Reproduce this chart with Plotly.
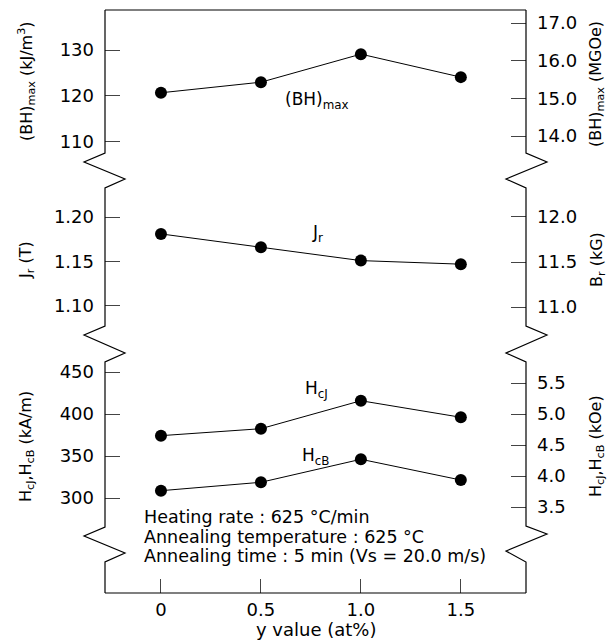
import plotly.graph_objects as go

# ---- data ----
y_value = [0, 0.5, 1.0, 1.5]
bh_max = [120.7, 123.0, 129.1, 124.1]      # kJ/m3
jr = [1.181, 1.166, 1.151, 1.147]           # T
hcj = [374.2, 382.5, 415.8, 396.1]          # kA/m
hcb = [308.7, 318.7, 346.1, 321.4]          # kA/m

x_ticks = [0, 0.5, 1.0, 1.5]
x_ticktext = ["0", "0.5", "1.0", "1.5"]
bh_ticks = [110, 120, 130]
bh_r_ticks = [14.0, 15.0, 16.0, 17.0]
jr_ticks = [1.10, 1.15, 1.20]
br_ticks = [11.0, 11.5, 12.0]
hc_ticks = [300, 350, 400, 450]
hc_r_ticks = [3.5, 4.0, 4.5, 5.0, 5.5]

W, H = 611, 640
L, R, T, B = 105, 526, 10, 593
FONT = "DejaVu Sans"


def px(x):
    return (x - L) / (R - L)


def py(y):
    return (B - y) / (B - T)


fig = go.Figure()
mk = dict(color="black", size=12)
ln = dict(color="black", width=1)
fig.add_trace(go.Scatter(x=y_value, y=bh_max, mode="lines+markers", marker=mk, line=ln, yaxis="y3"))
fig.add_trace(go.Scatter(x=y_value, y=jr, mode="lines+markers", marker=mk, line=ln, yaxis="y2"))
fig.add_trace(go.Scatter(x=y_value, y=hcj, mode="lines+markers", marker=mk, line=ln, yaxis="y"))
fig.add_trace(go.Scatter(x=y_value, y=hcb, mode="lines+markers", marker=mk, line=ln, yaxis="y"))
# empty traces so the right-hand (converted unit) axes are drawn
for ax in ["y4", "y5", "y6"]:
    fig.add_trace(go.Scatter(x=[None], y=[None], mode="markers", yaxis=ax, hoverinfo="skip"))

tickfont = dict(family=FONT, size=18, color="black")
common = dict(showgrid=False, zeroline=False, showline=False, ticks="inside",
              ticklen=15, tickcolor="#444", tickwidth=1, tickfont=tickfont)

d3 = [py(153), 1.0]
d2 = [py(326), py(188)]
d1 = [0.0, py(362)]

fig.update_layout(
    width=W, height=H,
    margin=dict(l=L, r=W - R, t=T, b=H - B, pad=0),
    paper_bgcolor="white", plot_bgcolor="white",
    showlegend=False,
    xaxis=dict(range=[-0.280, 1.826], tickvals=x_ticks, ticktext=x_ticktext,
               showgrid=False, zeroline=False, showline=False, ticks="inside",
               ticklen=14, tickcolor="#444", tickwidth=1, tickfont=tickfont,
               ticklabelstandoff=4),
    yaxis=dict(domain=d1, range=[186.9, 461.9], tickvals=hc_ticks, side="left", ticklabelstandoff=10, **common),
    yaxis2=dict(domain=d2, range=[1.0775, 1.2326], tickvals=jr_ticks, tickformat=".2f", side="left", ticklabelstandoff=10, **common),
    yaxis3=dict(domain=d3, range=[107.6, 138.7], tickvals=bh_ticks, side="left", ticklabelstandoff=10, **common),
    yaxis4=dict(overlaying="y", anchor="x", side="right", range=[2.113, 5.839], tickvals=hc_r_ticks, tickformat=".1f", ticklabelstandoff=10, **common),
    yaxis5=dict(overlaying="y2", anchor="x", side="right", range=[10.789, 12.322], tickvals=br_ticks, tickformat=".1f", ticklabelstandoff=10, **common),
    yaxis6=dict(overlaying="y3", anchor="x", side="right", range=[13.549, 17.345], tickvals=bh_r_ticks, tickformat=".1f", ticklabelstandoff=10, **common),
)

# frame with break marks
def zig_left(y0, y1, y2, y3):
    return f" L 0,{py(y0)} L {px(84)},{py(y1)} L {px(125)},{py(y2)} L 0,{py(y3)}"


def zig_right(y0, y1, y2, y3):
    return f" L 1,{py(y0)} L {px(547)},{py(y1)} L {px(506)},{py(y2)} L 1,{py(y3)}"


left_path = "M 0,1" + zig_left(153, 162, 179, 188) + zig_left(326, 335, 353, 362) + zig_left(527, 536, 553, 562) + " L 0,0"
right_path = "M 1,1" + zig_right(153, 162, 179, 188) + zig_right(326, 335, 353, 362) + zig_right(526, 534, 551, 562) + " L 1,0"
frame = dict(color="black", width=1.2)
fig.add_shape(type="path", path=left_path, xref="paper", yref="paper", line=frame)
fig.add_shape(type="path", path=right_path, xref="paper", yref="paper", line=frame)
fig.add_shape(type="line", x0=0, x1=1, y0=1, y1=1, xref="paper", yref="paper", line=frame)
fig.add_shape(type="line", x0=0, x1=1, y0=0, y1=0, xref="paper", yref="paper", line=frame)

def ann(text, x, y, size=16, angle=0, xanchor="center"):
    fig.add_annotation(text=text, x=px(x), y=py(y), xref="paper", yref="paper",
                       showarrow=False, textangle=angle, xanchor=xanchor, yanchor="middle",
                       borderpad=0,
                       font=dict(family=FONT, size=size, color="black"))

# axis titles
ann("(BH)<sub>max</sub> (kJ/m<sup>3</sup>)", 26, 81, 16, -90)
ann("J<sub>r</sub> (T)", 26, 260, 16, -90)
ann("H<sub>cJ</sub>,H<sub>cB</sub> (kA/m)", 26, 447, 16, -90)
ann("(BH)<sub>max</sub> (MGOe)", 596, 84, 16, -90)
ann("B<sub>r</sub> (kG)", 597, 260, 16, -90)
ann("H<sub>cJ</sub>,H<sub>cB</sub> (kOe)", 597, 446, 16, -90)
ann("y value (at%)", 316, 630, 18)

# series labels
ann("(BH)<sub>max</sub>", 317, 100, 17)
ann("J<sub>r</sub>", 317, 233, 17)
ann("H<sub>cJ</sub>", 316, 389, 17)
ann("H<sub>cB</sub>", 316, 457, 17)

# conditions
ann("Heating rate : 625 °C/min", 143, 517, 17.5, xanchor="left")
ann("Annealing temperature : 625 °C", 143, 536.5, 17.5, xanchor="left")
ann("Annealing time : 5 min (Vs = 20.0 m/s)", 143, 556, 17.5, xanchor="left")

fig.write_html("out.html")
